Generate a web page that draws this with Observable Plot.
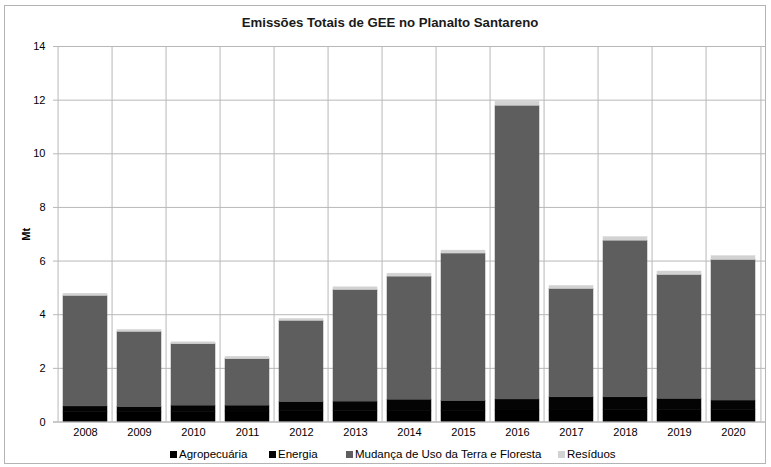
<!DOCTYPE html>
<html>
<head>
<meta charset="utf-8">
<script src="https://cdn.jsdelivr.net/npm/d3@7"></script>
<script src="https://cdn.jsdelivr.net/npm/@observablehq/plot@0.6"></script>
<style>
  html, body { margin: 0; padding: 0; background: #fff; }
  #wrap { position: relative; width: 771px; height: 467px; font-family: "Liberation Sans", Arial, sans-serif; overflow: hidden; }
  #border { position: absolute; left: 4px; top: 5px; width: 762px; height: 459px; border: 1px solid #b4b4b4; box-sizing: border-box; }
  #title { position: absolute; left: 0; width: 780px; top: 15px; text-align: center; font-family: "Liberation Sans", Arial, sans-serif; font-weight: bold; font-size: 13.2px; color: #1a1a1a; }
  #chart { position: absolute; left: 0; top: 0; }
  .leg { position: absolute; top: 448px; font-size: 11.5px; color: #000; white-space: nowrap; display: flex; align-items: center; }
  .leg span.sw { display: inline-block; width: 7px; height: 7px; margin-right: 2px; }
</style>
</head>
<body>
<div id="wrap">
  <div id="border"></div>
  <div id="title">Emissões Totais de GEE no Planalto Santareno</div>
  <div id="chart"></div>
  <div id="legend"></div>
</div>
<script>
const years = ["2008","2009","2010","2011","2012","2013","2014","2015","2016","2017","2018","2019","2020"];
const agropecuaria = [0.37,0.36,0.38,0.39,0.40,0.41,0.42,0.42,0.43,0.43,0.44,0.44,0.45];
const energia      = [0.21,0.19,0.23,0.22,0.34,0.35,0.41,0.36,0.41,0.49,0.48,0.42,0.35];
const mudanca      = [4.12,2.81,2.29,1.73,3.03,4.16,4.59,5.50,10.95,4.04,5.84,4.62,5.24];
const residuos     = [0.08,0.07,0.07,0.09,0.07,0.10,0.11,0.11,0.15,0.11,0.13,0.13,0.14];
const seriesNames = ["Agropecuária","Energia","Mudança de Uso da Terra e Floresta","Resíduos"];
const seriesColors = ["#000000","#040404","#5e5e5e","#d2d2d2"];
const yTicks = [0,2,4,6,8,10,12,14];

const seriesValues = [agropecuaria, energia, mudanca, residuos];
const data = [];
years.forEach((yr, i) => {
  seriesNames.forEach((s, k) => data.push({year: yr, series: s, value: seriesValues[k][i]}));
});

const W = 771, H = 440, ML = 53, MR = 5, MT = 46, MB = 18.5;
const step = (W - ML - MR) / years.length;
const gridColor = "#b8b8b8";

const chart = Plot.plot({
  width: W, height: H,
  marginLeft: ML, marginRight: MR, marginTop: MT, marginBottom: MB,
  style: { fontFamily: "Liberation Sans, Arial, sans-serif", fontSize: "11px", color: "#000", background: "transparent" },
  x: { domain: years, paddingInner: 0.18, paddingOuter: 0.09 },
  y: { domain: [0, 14] },
  color: { domain: seriesNames, range: seriesColors },
  marks: [
    Plot.gridY(yTicks, { stroke: gridColor, strokeOpacity: 1 }),
    Plot.ruleX(years, { stroke: gridColor, dx: -step / 2 }),
    Plot.ruleX([years[years.length - 1]], { stroke: gridColor, dx: step / 2 }),
    Plot.barY(data, { x: "year", y: "value", fill: "series", stroke: "series", strokeWidth: 0.5 }),
    Plot.ruleY([0], { stroke: gridColor }),
    Plot.axisY(yTicks, { tickSize: 0, tickPadding: 8, label: "Mt", labelAnchor: "center", labelArrow: "none", labelOffset: 31, fontSize: 11 }),
    Plot.axisX({ tickSize: 0, tickPadding: 6, label: null, fontSize: 11 })
  ]
});
chart.querySelectorAll("g[aria-label='y-axis label'] text, g[aria-label='y-axis label']").forEach(t => { t.setAttribute("font-weight", "bold"); });
document.getElementById("chart").appendChild(chart);

const legendLefts = [170, 269, 346, 558];
const legend = document.getElementById("legend");
seriesNames.forEach((s, k) => {
  const d = document.createElement("div");
  d.className = "leg";
  d.style.left = legendLefts[k] + "px";
  d.innerHTML = `<span class="sw" style="background:${seriesColors[k]}"></span>${s}`;
  legend.appendChild(d);
});
</script>
</body>
</html>
